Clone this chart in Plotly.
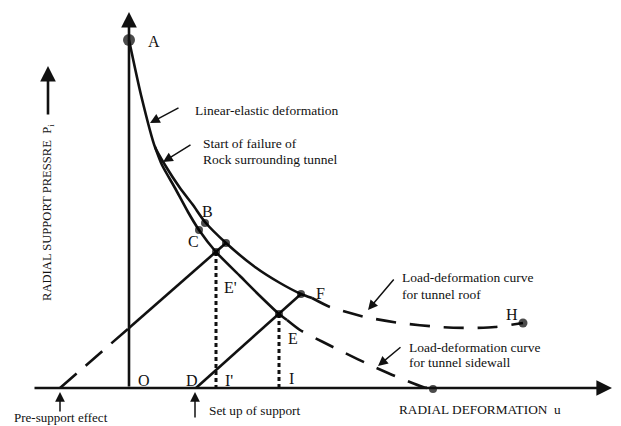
import plotly.graph_objects as go

# Diagram coordinates (u to the right, P drawn downward-positive screen axis)
roof_solid_u = [129, 141, 155, 165, 180, 193, 205, 226, 255, 280, 301, 312]
roof_solid_p = [40, 95, 147, 165, 188, 205, 222, 243, 267, 283, 294, 298]
roof_dash_u = [312, 330, 365, 400, 440, 470, 495, 523]
roof_dash_p = [298, 307, 317, 323, 327, 328, 327, 323]

side_solid_u = [155, 162, 175, 188, 199, 216, 240, 260, 279, 287]
side_solid_p = [147, 165, 188, 212, 230, 252, 276, 296, 314, 320]
side_dash_u = [287, 300, 323, 345, 370, 395, 423, 433]
side_dash_p = [320, 330, 342, 353, 365, 376, 387, 389]

sup1_dash_u = [60, 129]
sup1_dash_p = [388, 328]
sup1_solid_u = [129, 226]
sup1_solid_p = [328, 243]
sup2_u = [196, 301]
sup2_p = [388, 294]

drop_u = [216, 279]
drop_top = [252, 314]
axis_p = 388

dot_u = [129, 205, 199, 226, 216, 301, 279, 523, 433]
dot_p = [40, 223, 230, 243, 252, 294, 314, 323, 389]
dot_size = [12, 8, 8, 8, 8, 8, 8, 9, 8]

point_labels = ["A", "B", "C", "E'", "F", "E", "I", "I'", "D", "O", "H"]
label_u = [146, 200, 186, 222, 314, 286, 287, 223, 184, 136, 504]
label_p = [41, 211, 241, 287, 293, 338, 378, 380, 380, 380, 314]

INK = "#111111"
FONT = "Liberation Serif"

fig = go.Figure()
def line(u, p, dash="solid", w=2.6):
    fig.add_trace(go.Scatter(x=u, y=p, mode="lines", line=dict(color=INK, width=w, dash=dash, shape="spline", smoothing=0.6), hoverinfo="skip"))

line(roof_solid_u, roof_solid_p)
line(roof_dash_u, roof_dash_p, dash="20px,14px")
line(side_solid_u, side_solid_p)
line(side_dash_u, side_dash_p, dash="20px,14px")
line(sup1_dash_u, sup1_dash_p, dash="22px,12px")
line(sup1_solid_u, sup1_solid_p)
line(sup2_u, sup2_p)
for u, top in zip(drop_u, drop_top):
    line([u, u], [top, axis_p], dash="4px,3px", w=3)

fig.add_trace(go.Scatter(x=dot_u, y=dot_p, mode="markers",
                         marker=dict(color="#000000", size=dot_size, line=dict(width=0)),
                         hoverinfo="skip"))

ann = []
# axes
ann.append(dict(x=129, y=12, ax=129, ay=388, xref="x", yref="y", axref="x", ayref="y",
                showarrow=True, arrowhead=2, arrowsize=1.2, arrowwidth=2.6, arrowcolor=INK, text=""))
ann.append(dict(x=612, y=388, ax=33, ay=388, xref="x", yref="y", axref="x", ayref="y",
                showarrow=True, arrowhead=2, arrowsize=1.2, arrowwidth=2.6, arrowcolor=INK, text=""))
# y-label arrow
ann.append(dict(x=48, y=66, ax=48, ay=116, xref="x", yref="y", axref="x", ayref="y",
                showarrow=True, arrowhead=2, arrowsize=1.2, arrowwidth=2.6, arrowcolor=INK, text=""))
# pointer arrows
pointers = [((150, 123), (180, 107)), ((163, 162), (192, 144)), ((368, 310), (395, 278)),
            ((378, 366), (402, 346)), ((60, 392), (60, 413)), ((195, 392), (195, 419))]
for (tx, ty), (sx, sy) in pointers:
    ann.append(dict(x=tx, y=ty, ax=sx, ay=sy, xref="x", yref="y", axref="x", ayref="y",
                    showarrow=True, arrowhead=2, arrowsize=1.3, arrowwidth=1.5, arrowcolor=INK, text=""))

for t, u, p in zip(point_labels, label_u, label_p):
    ann.append(dict(x=u, y=p, text=t, showarrow=False, xanchor="left", yanchor="middle",
                    font=dict(family=FONT, size=16, color=INK)))

texts = [
    ("Linear-elastic deformation", 193, 110, "left", 13.5),
    ("Start of failure of", 201, 143, "left", 13.5),
    ("Rock surrounding tunnel", 201, 159, "left", 13.5),
    ("Load-deformation curve", 400, 277, "left", 13.5),
    ("for tunnel roof", 400, 294, "left", 13.5),
    ("Load-deformation curve", 407, 347, "left", 13.5),
    ("for tunnel sidewall", 407, 362, "left", 13.5),
    ("RADIAL DEFORMATION  u", 397, 409, "left", 13.3),
    ("Pre-support effect", 12, 417, "left", 13),
    ("Set up of support", 207, 410, "left", 13.3),
]
for t, u, p, xa, s in texts:
    ann.append(dict(x=u, y=p, text=t, showarrow=False, xanchor=xa, yanchor="middle",
                    font=dict(family=FONT, size=s, color=INK)))
ann.append(dict(x=48, y=213, text="RADIAL SUPPORT PRESSRE  P<sub>i</sub>", textangle=-90,
                showarrow=False, xanchor="center", yanchor="middle",
                font=dict(family=FONT, size=12.6, color=INK)))

fig.update_layout(width=621, height=426, margin=dict(l=0, r=0, t=0, b=0),
                  paper_bgcolor="white", plot_bgcolor="white", showlegend=False,
                  annotations=ann,
                  xaxis=dict(range=[0, 621], visible=False, fixedrange=True),
                  yaxis=dict(range=[426, 0], visible=False, fixedrange=True))
fig.write_html("out.html", config={"displayModeBar": False},
               post_script="document.body.style.margin='0';document.body.style.overflow='hidden';")
